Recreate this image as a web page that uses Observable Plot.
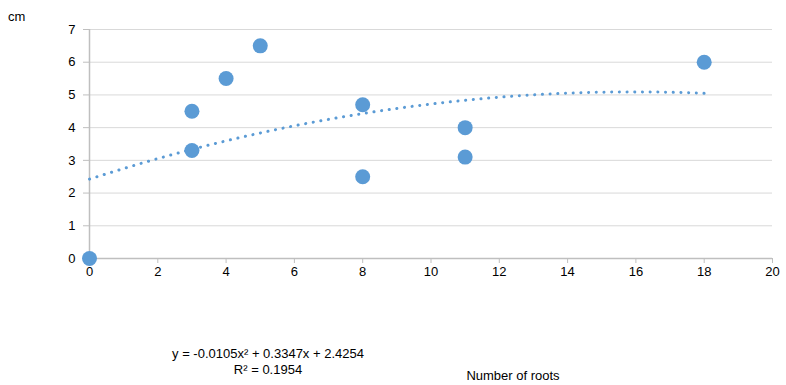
<!DOCTYPE html>
<html><head><meta charset="utf-8">
<script src="https://cdn.jsdelivr.net/npm/d3@7"></script>
<script src="https://cdn.jsdelivr.net/npm/@observablehq/plot@0.6"></script>
<style>
body{margin:0;background:#fff;font-family:"Liberation Sans",Arial,sans-serif;}
#wrap{position:relative;width:786px;height:385px;}
.lbl{position:absolute;font-size:13px;color:#000;white-space:nowrap;}
</style></head>
<body><div id="wrap"></div>
<script>
const roots = [0, 3, 3, 4, 5, 8, 8, 11, 11, 18];
const lengthCm = [0, 4.5, 3.3, 5.5, 6.5, 4.7, 2.5, 4.0, 3.1, 6.0];
const xTicks = [0, 2, 4, 6, 8, 10, 12, 14, 16, 18, 20];
const yTicks = [0, 1, 2, 3, 4, 5, 6, 7];
const trendCoef = [-0.0105, 0.3347, 2.4254]; // a, b, c as printed on the chart
const trendRange = [0, 18];
const equationText = "y = -0.0105x\u00b2 + 0.3347x + 2.4254";
const r2Text = "R\u00b2 = 0.1954";
const yUnit = "cm";
const xTitle = "Number of roots";

const pts = roots.map((x, i) => ({x, y: lengthCm[i]}));
const trend = d3.range(trendRange[0], trendRange[1] + 0.001, 0.1)
  .map(x => ({x, y: trendCoef[0]*x*x + trendCoef[1]*x + trendCoef[2]}));

const chart = Plot.plot({
  width: 786, height: 385,
  marginLeft: 89, marginRight: 14, marginTop: 29, marginBottom: 127,
  style: {fontFamily: '"Liberation Sans", Arial, sans-serif', fontSize: "13px", background: "#fff", overflow: "visible"},
  x: {domain: [0, 20], ticks: xTicks, label: null},
  y: {domain: [0, 7], ticks: yTicks, label: null},
  marks: [
    Plot.gridY(yTicks, {stroke: "#d9d9d9", strokeOpacity: 1, strokeWidth: 1}),
    Plot.ruleX([0], {stroke: "#bfbfbf", strokeWidth: 1.5}),
    Plot.ruleY([0], {stroke: "#bfbfbf", strokeWidth: 1.5}),
    Plot.axisX(xTicks, {tickSize: 5, tickPadding: 3, stroke: "#bfbfbf", color: "#000", fontSize: 13, label: null}),
    Plot.axisY(yTicks, {tickSize: 6, tickPadding: 8, stroke: "#bfbfbf", color: "#000", fontSize: 13, label: null}),
    Plot.line(trend, {x: "x", y: "y", stroke: "#5b9bd5", strokeWidth: 3, strokeDasharray: "0.1 7.6", strokeLinecap: "round"}),
    Plot.dot(pts, {x: "x", y: "y", r: 7.5, fill: "#5b9bd5", stroke: "none"})
  ]
});
const wrap = document.getElementById("wrap");
wrap.appendChild(chart);
function addLabel(text, left, top, align) {
  const d = document.createElement("div");
  d.className = "lbl";
  d.textContent = text;
  d.style.left = left + "px"; d.style.top = top + "px";
  if (align === "center") d.style.transform = "translateX(-50%)";
  wrap.appendChild(d);
}
addLabel(yUnit, 8, 9);
addLabel(equationText, 268, 346, "center");
addLabel(r2Text, 268, 362, "center");
addLabel(xTitle, 513, 368, "center");
</script></body></html>
